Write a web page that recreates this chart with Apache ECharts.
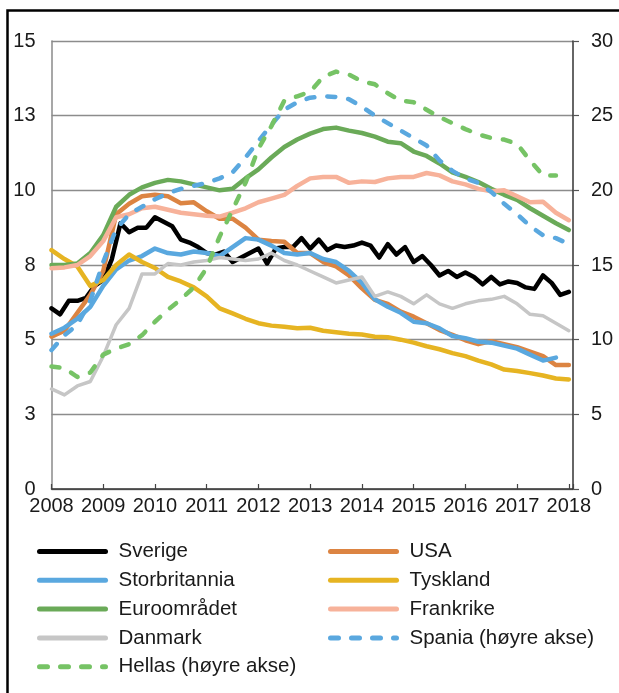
<!DOCTYPE html>
<html lang="no">

<head>
    <meta charset="UTF-8">
    <title>Rentemarginer</title>
    <script src="https://cdn.jsdelivr.net/npm/echarts@6/dist/echarts.min.js"></script>
    <style>
        html, body { margin: 0; padding: 0; background: #fff; }
    </style>
</head>

<body>
    <div id="chart" style="width: 619px;height: 693px;"></div>
    <script>
        let chart = echarts.init(document.getElementById('chart'));

        // time axis: years, first point Jan 2008
        var START = 2008;
        var xTicks = [2008, 2009, 2010, 2011, 2012, 2013, 2014, 2015, 2016, 2017, 2018];

        // every second month, left axis
        var sverige = [6.05, 5.85, 6.3, 6.3, 6.4, 6.8, 7.0, 7.7, 8.9, 8.6,
            8.75, 8.75, 9.1, 8.95, 8.8, 8.35, 8.25, 8.1, 7.9, 7.85,
            7.95, 7.6, 7.75, 7.9, 8.05, 7.55, 8.05, 8.1, 8.1, 8.4,
            8.05, 8.35, 8.0, 8.15, 8.1, 8.15, 8.25, 8.15, 7.75, 8.2,
            7.85, 8.1, 7.6, 7.8, 7.5, 7.15, 7.3, 7.1, 7.25, 7.1,
            6.85, 7.1, 6.85, 6.95, 6.9, 6.75, 6.7, 7.15, 6.9, 6.5, 6.6];

        // quarterly, left axis
        var usa = [5.1, 5.3, 5.9, 6.5, 7.3, 9.2, 9.55, 9.8, 9.85, 9.8,
            9.57, 9.6, 9.3, 9.05, 9.05, 8.75, 8.35, 8.3, 8.28, 7.9,
            7.9, 7.6, 7.45, 7.15, 6.72, 6.33, 6.2, 5.94, 5.77, 5.55,
            5.32, 5.16, 4.98, 4.85, 4.95, 4.85, 4.75, 4.6, 4.45, 4.15, 4.15];
        var storbritannia = [5.2, 5.4, 5.7, 6.1, 6.8, 7.35, 7.65, 7.8, 8.05, 7.9,
            7.85, 7.95, 7.9, 7.8, 8.1, 8.4, 8.35, 8.15, 7.9, 7.85,
            7.9, 7.7, 7.6, 7.3, 6.9, 6.35, 6.1, 5.9, 5.6, 5.55,
            5.38, 5.12, 5.05, 4.93, 4.9, 4.8, 4.7, 4.5, 4.3, 4.4];
        var tyskland = [8.0, 7.7, 7.45, 6.8, 7.0, 7.5, 7.85, 7.6, 7.4, 7.1,
            6.95, 6.75, 6.45, 6.05, 5.88, 5.7, 5.55, 5.47, 5.43, 5.38,
            5.4, 5.3, 5.25, 5.2, 5.17, 5.1, 5.08, 5.0, 4.9, 4.78,
            4.68, 4.55, 4.45, 4.3, 4.17, 4.0, 3.95, 3.88, 3.8, 3.7, 3.67];
        var euro = [7.5, 7.5, 7.55, 7.9, 8.5, 9.45, 9.85, 10.1, 10.25, 10.35,
            10.3, 10.2, 10.1, 10.0, 10.05, 10.4, 10.7, 11.1, 11.45, 11.7,
            11.9, 12.05, 12.1, 12.0, 11.92, 11.8, 11.63, 11.58, 11.3, 11.15,
            10.9, 10.6, 10.45, 10.28, 10.05, 9.85, 9.68, 9.4, 9.15, 8.9, 8.67];
        var frankrike = [7.39, 7.42, 7.5, 7.8, 8.3, 9.1, 9.2, 9.4, 9.45, 9.35,
            9.25, 9.2, 9.15, 9.12, 9.25, 9.4, 9.6, 9.72, 9.85, 10.15,
            10.4, 10.45, 10.45, 10.25, 10.3, 10.28, 10.4, 10.45, 10.45, 10.58,
            10.5, 10.3, 10.2, 10.05, 9.97, 10.0, 9.8, 9.6, 9.62, 9.25, 9.0];
        var danmark = [3.35, 3.15, 3.45, 3.6, 4.45, 5.5, 6.05, 7.2, 7.2, 7.55,
            7.5, 7.6, 7.65, 7.75, 7.7, 7.65, 7.7, 7.9, 7.65, 7.5,
            7.3, 7.1, 6.9, 7.0, 7.1, 6.45, 6.6, 6.45, 6.2, 6.5,
            6.2, 6.05, 6.2, 6.3, 6.35, 6.45, 6.2, 5.85, 5.8, 5.55, 5.3];

        // quarterly, right axis
        var spania = [9.3, 10.3, 11.0, 12.6, 15.2, 17.4, 18.4, 18.9, 19.4, 19.8,
            20.1, 20.3, 20.5, 20.8, 21.2, 22.2, 23.3, 24.4, 25.4, 25.9,
            26.2, 26.3, 26.25, 26.1, 25.6, 25.0, 24.5, 24.0, 23.5, 23.0,
            22.0, 21.3, 20.8, 20.5, 19.9, 19.1, 18.4, 17.6, 17.0, 16.8, 16.4];
        var hellas = [8.2, 8.1, 7.5, 7.8, 9.0, 9.4, 9.7, 10.3, 11.2, 12.0,
            12.7, 13.5, 14.8, 16.9, 18.7, 20.5, 22.8, 24.3, 26.0, 26.3,
            26.6, 27.6, 27.95, 27.75, 27.3, 27.1, 26.5, 26.0, 25.9, 25.4,
            24.9, 24.5, 24.1, 23.75, 23.5, 23.4, 23.1, 22.0, 21.0, 21.0];

        var FONT = 'Liberation Sans';
        var TEXT = '#1a1a1a';
        var DASH = [8, 13];

        function pts(values, step) {
            return values.map(function (v, i) {
                return [START + i * step, v];
            });
        }

        function line(name, values, step, color, width, axis, dashed) {
            return {
                type: 'line',
                name: name,
                yAxisIndex: axis,
                data: pts(values, step),
                symbol: 'none',
                animation: false,
                itemStyle: { color: color },
                lineStyle: {
                    color: color,
                    width: width,
                    type: dashed ? DASH : 'solid',
                    cap: 'round',
                    join: 'round'
                }
            };
        }

        var legendText = {
            color: TEXT,
            fontSize: 20.5,
            fontFamily: FONT,
            lineHeight: 20,
            padding: [0, 0, 0, 8]
        };

        function legendCol(left, names) {
            return {
                orient: 'vertical',
                left: left,
                top: 536,
                itemWidth: 66,
                itemHeight: 14,
                itemGap: 7.8,
                // hide the marker circle, keep only the line
                itemStyle: { opacity: 0, borderWidth: 0 },
                lineStyle: { width: 5, opacity: 1 },
                textStyle: legendText,
                data: names
            };
        }

        option = {
            animation: false,
            backgroundColor: '#fff',
            graphic: [{
                type: 'rect',
                shape: { x: 7.5, y: 10.5, width: 800, height: 900 },
                style: { fill: null, stroke: '#000', lineWidth: 2.5 },
                silent: true
            }],
            grid: {
                left: 51.5,
                right: 46,
                top: 41,
                bottom: 204
            },
            legend: [
                legendCol(32, ['Sverige', 'Storbritannia', 'Euroområdet', 'Danmark', 'Hellas (høyre akse)']),
                legendCol(323, ['USA', 'Tyskland', 'Frankrike', 'Spania (høyre akse)'])
            ],
            xAxis: {
                type: 'value',
                min: xTicks[0],
                max: 2018.08,
                interval: 1,
                splitLine: { show: false },
                axisLine: { lineStyle: { color: '#333', width: 1.5 } },
                axisTick: { inside: true, length: 5, lineStyle: { color: '#444', width: 1.2 } },
                axisLabel: {
                    margin: 7,
                    color: TEXT,
                    fontSize: 20,
                    fontFamily: FONT,
                    formatter: function (v) {
                        return xTicks.indexOf(v) >= 0 ? String(v) : '';
                    }
                }
            },
            yAxis: [{
                type: 'value',
                position: 'left',
                min: 0,
                max: 15,
                interval: 2.5,
                axisLine: { show: true, lineStyle: { color: '#8a8a8a', width: 1.5 } },
                axisTick: { show: false },
                splitLine: { lineStyle: { color: '#8c8c8c', width: 1.3 } },
                axisLabel: {
                    margin: 16,
                    color: TEXT,
                    fontSize: 20,
                    fontFamily: FONT,
                    formatter: function (v) { return Math.round(v); }
                }
            }, {
                type: 'value',
                position: 'right',
                min: 0,
                max: 30,
                interval: 5,
                axisLine: { show: true, lineStyle: { color: '#333', width: 1.5 } },
                axisTick: { show: true, length: 6, lineStyle: { color: '#555', width: 1.2 } },
                splitLine: { show: false },
                axisLabel: {
                    margin: 18,
                    color: TEXT,
                    fontSize: 20,
                    fontFamily: FONT
                }
            }],
            series: [
                line('Sverige', sverige, 1 / 6, '#000000', 4.5, 0, false),
                line('USA', usa, 0.25, '#dc8442', 4.5, 0, false),
                line('Storbritannia', storbritannia, 0.25, '#5aa8df', 4.5, 0, false),
                line('Tyskland', tyskland, 0.25, '#e6b422', 4.5, 0, false),
                line('Euroområdet', euro, 0.25, '#6aaa58', 4.5, 0, false),
                line('Frankrike', frankrike, 0.25, '#f7b29a', 4.5, 0, false),
                line('Danmark', danmark, 0.25, '#c6c6c6', 3.5, 0, false),
                line('Spania (høyre akse)', spania, 0.25, '#5aa8df', 4.5, 1, true),
                line('Hellas (høyre akse)', hellas, 0.25, '#76c365', 4.5, 1, true)
            ]
        };
        chart.setOption(option);
    </script>
</body>

</html>
